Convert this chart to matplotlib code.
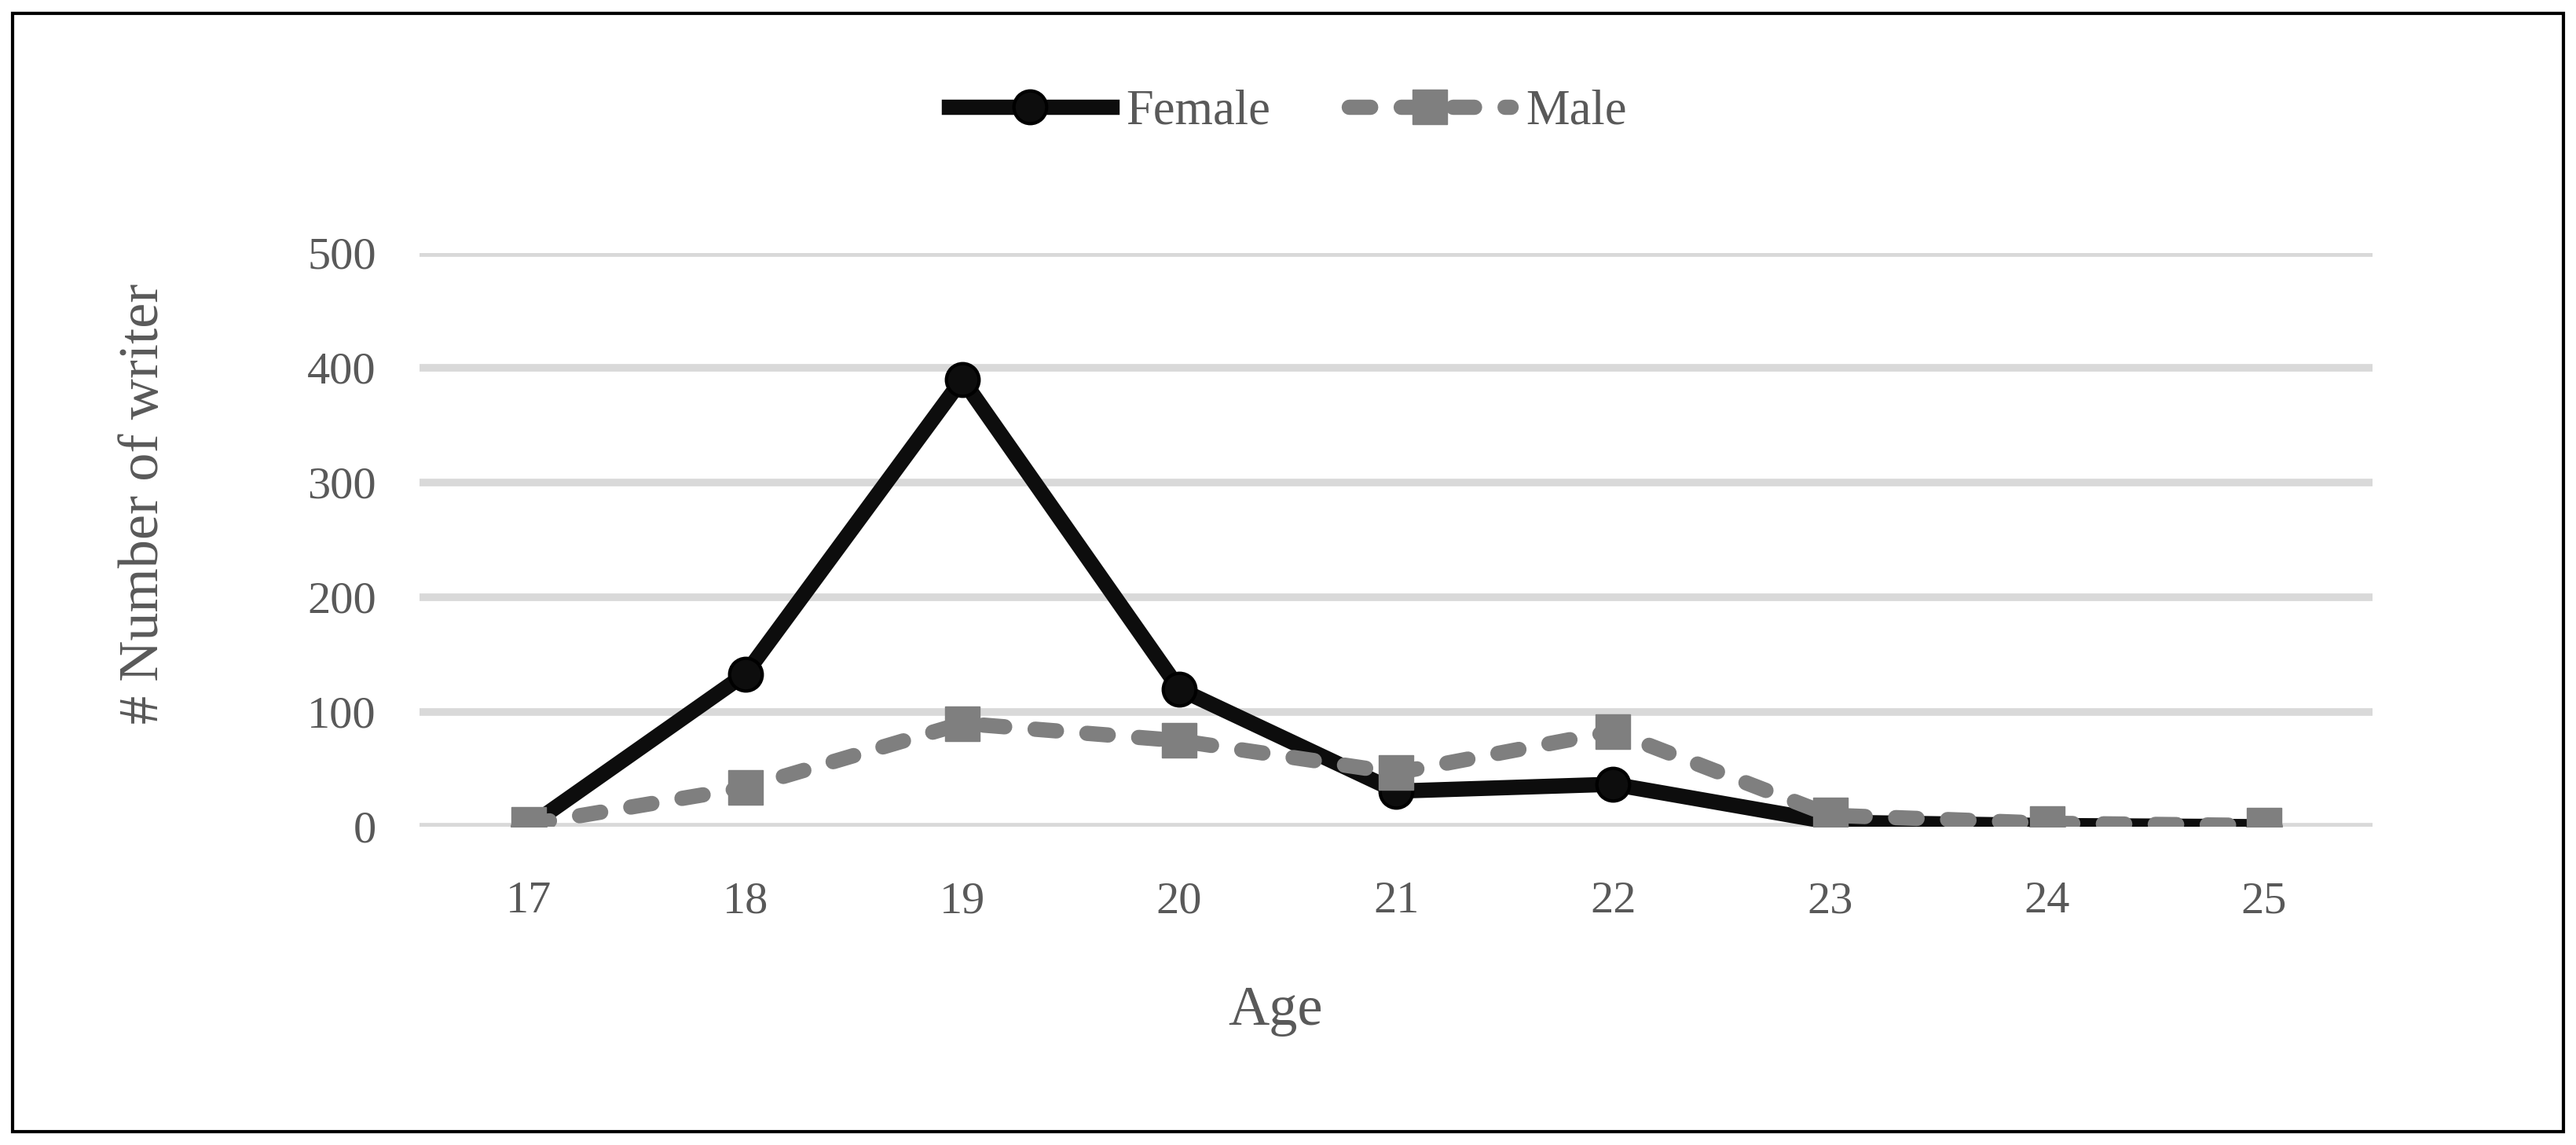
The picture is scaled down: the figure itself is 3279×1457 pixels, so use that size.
import matplotlib.pyplot as plt
from matplotlib.patches import Rectangle

# data
ages = [17, 18, 19, 20, 21, 22, 23, 24, 25]
female = [0, 133, 390, 120, 31, 37, 4, 1, 0]
male = [2, 34, 90, 75, 47, 83, 10, 3, 1]
y_ticks = [0, 100, 200, 300, 400, 500]

txt = '#595959'
plt.rcParams['font.family'] = ['Liberation Serif', 'DejaVu Serif']

fig = plt.figure(figsize=(32.79, 14.57), dpi=100)
ax = fig.add_axes([0.163, 0.278, 0.758, 0.501])

ax.plot(ages, female, color='#0d0d0d', lw=14, marker='o', ms=30,
        mfc='#0d0d0d', mec='black', mew=3, label='Female', zorder=3)
ax.plot(ages, male, color='#7f7f7f', lw=14, marker='s', ms=32,
        mfc='#7f7f7f', mec='#7f7f7f', dashes=(1.4, 2.0),
        dash_capstyle='round', label='Male', zorder=4)

ax.set_xlim(16.5, 25.5)
ax.set_ylim(0, 500)
ax.set_xticks(ages)
ax.set_yticks(y_ticks)
ax.grid(axis='y', color='#d9d9d9', lw=7)
ax.set_axisbelow(True)
for s in ax.spines.values():
    s.set_visible(False)
ax.tick_params(length=0, labelsize=42, labelcolor=txt)
ax.tick_params(axis='x', pad=50)
ax.tick_params(axis='y', pad=40)

# axis titles placed like the original (centred on the chart area)
fig.text(0.495, 0.117, 'Age', fontsize=52, color=txt, ha='center', va='center')
fig.text(0.056, 0.56, '# Number of writer', fontsize=52, color=txt,
         ha='center', va='center', rotation=90)

fig.legend(loc='center', bbox_to_anchor=(0.5, 0.902), ncol=2, frameon=False,
           fontsize=45, labelcolor=txt, handlelength=3.3, columnspacing=1.6,
           handletextpad=0.3)

# outer frame
fig.patches.append(Rectangle((0.005, 0.012), 0.99, 0.976, transform=fig.transFigure,
                             fill=False, ec='black', lw=3))

plt.savefig('out.png', dpi=100)
